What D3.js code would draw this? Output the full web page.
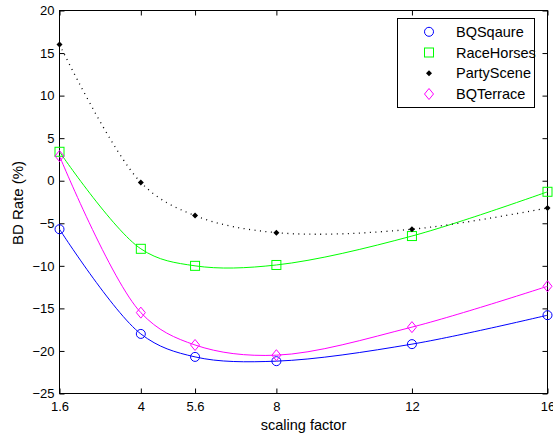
<!DOCTYPE html>
<html><head><meta charset="utf-8">
<script src="https://cdn.jsdelivr.net/npm/d3@7"></script>
<style>body{margin:0;background:#fff}svg{display:block}text{font-family:Arial,"Liberation Sans",sans-serif;fill:#000}</style>
</head><body><svg id="c" width="553" height="438"></svg>
<script>
const xVals = [1.6, 4, 5.6, 8, 12, 16];
const xTicks = [1.6, 4, 5.6, 8, 12, 16];
const yTicks = [-25, -20, -15, -10, -5, 0, 5, 10, 15, 20];
const seriesNames = ["BQSqaure", "RaceHorses", "PartyScene", "BQTerrace"];
const bqSquare = [-5.7, -18.0, -20.7, -21.2, -19.2, -15.8];
const raceHorses = [3.4, -8.0, -10.0, -9.9, -6.5, -1.3];
const partyScene = [16.0, -0.2, -4.1, -6.1, -5.7, -3.2];
const bqTerrace = [2.9, -15.5, -19.3, -20.5, -17.2, -12.4];
const colors = ["#0000ff", "#00ff00", "#000000", "#ff00ff"];
const markers = ["circle", "square", "dot", "diamond"];
const dashes = [null, null, "1,4.5", null];
const allSeries = [bqSquare, raceHorses, partyScene, bqTerrace];

const svg = d3.select("#c");
const L = 59.5, R = 547.5, T = 10.5, B = 393.5;
const x = d3.scaleLinear().domain([1.6, 16]).range([L, R]);
const y = d3.scaleLinear().domain([-25, 20]).range([B, T]);

svg.append("rect").attr("x", L).attr("y", T).attr("width", R - L).attr("height", B - T)
  .attr("fill", "#fff").attr("stroke", "#000").attr("stroke-width", 1);

function styleAxis(g, labels) {
  g.select(".domain").remove();
  g.selectAll(".tick line").attr("stroke", "#000");
  g.selectAll("text").style("font-size", "13px").style("font-family", "Arial, 'Liberation Sans', sans-serif");
  if (!labels) g.selectAll("text").remove();
}
svg.append("g").attr("transform", `translate(0,${B})`)
  .call(d3.axisBottom(x).tickValues(xTicks).tickSizeInner(-5).tickSizeOuter(0).tickPadding(8).tickFormat(d3.format("")))
  .call(g => styleAxis(g, true));
svg.append("g").attr("transform", `translate(0,${T})`)
  .call(d3.axisTop(x).tickValues(xTicks).tickSizeInner(-5).tickSizeOuter(0))
  .call(g => styleAxis(g, false));
svg.append("g").attr("transform", `translate(${L},0)`)
  .call(d3.axisLeft(y).tickValues(yTicks).tickSizeInner(-5).tickSizeOuter(0).tickPadding(5))
  .call(g => styleAxis(g, true));
svg.append("g").attr("transform", `translate(${R},0)`)
  .call(d3.axisRight(y).tickValues(yTicks).tickSizeInner(-5).tickSizeOuter(0))
  .call(g => styleAxis(g, false));

const line = d3.line().x(d => x(d[0])).y(d => y(d[1])).curve(d3.curveCatmullRom.alpha(0.5));
allSeries.forEach((s, i) => {
  const pts = xVals.map((xv, j) => [xv, s[j]]);
  const p = svg.append("path").attr("d", line(pts)).attr("fill", "none")
    .attr("stroke", colors[i]).attr("stroke-width", i === 2 ? 1.3 : 1);
  if (dashes[i]) p.attr("stroke-dasharray", dashes[i]);
});

function drawMarker(g, type, cx, cy, color) {
  if (type === "circle") {
    g.append("circle").attr("cx", cx).attr("cy", cy).attr("r", 4.5)
      .attr("fill", "none").attr("stroke", color).attr("stroke-width", 1);
  } else if (type === "square") {
    g.append("rect").attr("x", cx - 4.5).attr("y", cy - 4.5).attr("width", 9).attr("height", 9)
      .attr("fill", "none").attr("stroke", color).attr("stroke-width", 1);
  } else if (type === "diamond") {
    g.append("path").attr("d", `M${cx},${cy - 5.5}L${cx + 4.5},${cy}L${cx},${cy + 5.5}L${cx - 4.5},${cy}Z`)
      .attr("fill", "none").attr("stroke", color).attr("stroke-width", 1);
  } else {
    g.append("path").attr("d", `M${cx},${cy - 3}L${cx + 3},${cy}L${cx},${cy + 3}L${cx - 3},${cy}Z`)
      .attr("fill", color).attr("stroke", "none");
  }
}
allSeries.forEach((s, i) => {
  const g = svg.append("g");
  xVals.forEach((xv, j) => drawMarker(g, markers[i], x(xv), y(s[j]), colors[i]));
});

svg.append("text").attr("x", (L + R) / 2).attr("y", 430).attr("text-anchor", "middle")
  .style("font-size", "14.5px").text("scaling factor");
svg.append("text").attr("transform", `translate(23,${(T + B) / 2 + 1}) rotate(-90)`).attr("text-anchor", "middle")
  .style("font-size", "15px").text("BD Rate (%)");

const lg = svg.append("g");
lg.append("rect").attr("x", 397.5).attr("y", 18.5).attr("width", 137).attr("height", 89)
  .attr("fill", "#fff").attr("stroke", "#000").attr("stroke-width", 1);
const rows = [31.8, 52.5, 73.2, 94];
seriesNames.forEach((n, i) => {
  drawMarker(lg, markers[i], 429, rows[i], colors[i]);
  lg.append("text").attr("x", 456).attr("y", rows[i] + 5.2).style("font-size", "14.5px").text(n);
});
</script></body></html>
